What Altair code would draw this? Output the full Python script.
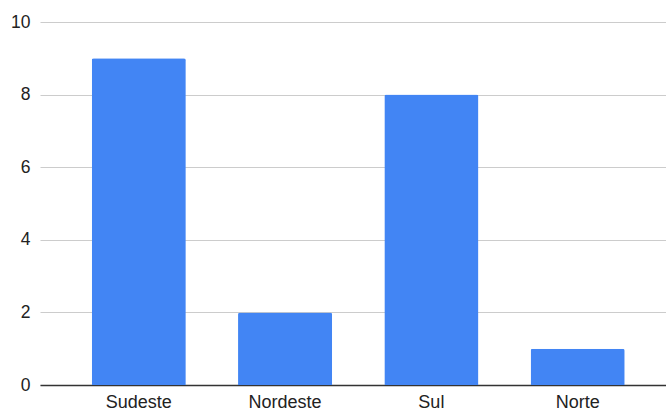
import altair as alt
import pandas as pd

regions = ["Sudeste", "Nordeste", "Sul", "Norte"]
values = [9, 2, 8, 1]

df = pd.DataFrame({"regiao": regions, "valor": values})

font = "Liberation Sans"

chart = alt.Chart(df).mark_bar(
    color="#4285F4", cornerRadiusTopLeft=2, cornerRadiusTopRight=2
).encode(
    x=alt.X("regiao:N", sort=regions, title=None,
            scale=alt.Scale(paddingInner=0.357, paddingOuter=0.318, align=0.556),
            axis=alt.Axis(labelAngle=0, ticks=False, domain=True, domainColor="#333333",
                          domainWidth=1.5, labelFont=font, labelFontSize=18,
                          labelColor="#222222", labelPadding=8, grid=False)),
    y=alt.Y("valor:Q", title=None,
            scale=alt.Scale(domain=[0, 10], nice=False),
            axis=alt.Axis(values=[0, 2, 4, 6, 8, 10], ticks=False, domain=False,
                          gridColor="#cccccc", gridWidth=1, labelFont=font,
                          labelFontSize=17.5, labelColor="#222222", labelPadding=10)),
).properties(
    width=626, height=363,
    autosize=alt.AutoSizeParams(type="none"),
    padding={"left": 40, "top": 22, "right": 0, "bottom": 27},
).configure_view(stroke=None)

chart.save("out.html", embed_options={"renderer": "svg", "actions": False})
